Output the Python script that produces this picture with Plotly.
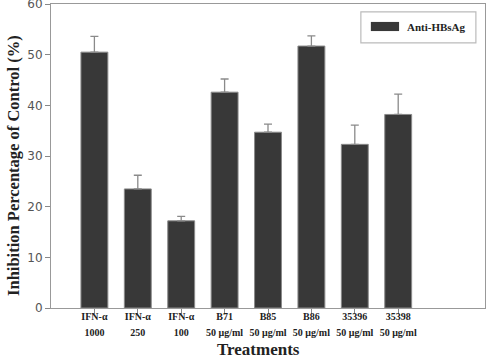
import plotly.graph_objects as go

cat_line1 = ["IFN-α", "IFN-α", "IFN-α", "B71", "B85", "B86", "35396", "35398"]
cat_line2 = ["1000", "250", "100", "50 μg/ml", "50 μg/ml", "50 μg/ml", "50 μg/ml", "50 μg/ml"]
values = [50.5, 23.5, 17.2, 42.6, 34.7, 51.7, 32.3, 38.2]
errors = [3.1, 2.7, 0.9, 2.6, 1.6, 2.0, 3.8, 4.0]
y_ticks = [0, 10, 20, 30, 40, 50, 60]

x = list(range(len(cat_line1)))
ticktext = [f"<span style='font-size:10px'><b>{a}</b></span><br><span style='font-size:10px'><b>{b}</b></span>"
            for a, b in zip(cat_line1, cat_line2)]
serif = "Liberation Serif"

fig = go.Figure()
fig.add_trace(go.Bar(
    x=x, y=values, width=0.62, name="Anti-HBsAg",
    marker=dict(color="#383838", line=dict(color="#8a8a8a", width=1)),
    error_y=dict(type="data", array=errors, arrayminus=[0]*len(errors), symmetric=False,
                 color="#8a8a8a", thickness=1.3, width=4),
    showlegend=False,
))

fig.update_layout(
    width=486, height=358,
    margin=dict(l=51, r=1, t=4, b=50, autoexpand=False),
    plot_bgcolor="white", paper_bgcolor="white",
    xaxis=dict(range=[-1, 9], tickmode="array", tickvals=x, ticktext=ticktext, automargin=False,
               ticks="outside", ticklen=5, tickcolor="#888", showgrid=False, zeroline=False,
               showline=True, linecolor="#999", linewidth=1, mirror=True,
               ticklabelstandoff=-8,
               tickfont=dict(family=serif, size=12, color="#222")),
    yaxis=dict(range=[0, 60], tickvals=y_ticks, ticks="outside", ticklen=5, tickcolor="#888",
               automargin=False, ticklabeloverflow="allow",
               showgrid=False, zeroline=False, showline=True, linecolor="#999", linewidth=1, mirror=True,
               tickfont=dict(family="DejaVu Sans", size=12, color="#555")),
)

# axis titles
fig.add_annotation(xref="paper", yref="paper", x=0.479, y=-0.138, yanchor="middle", xanchor="center",
                   text="<b>Treatments</b>", showarrow=False,
                   font=dict(family=serif, size=17, color="#222"))
fig.add_annotation(xref="paper", yref="paper", x=-0.088, y=0.47, textangle=-90,
                   xanchor="center", yanchor="middle",
                   text="<b>Inhibition Percentage of Control (%)</b>", showarrow=False,
                   font=dict(family=serif, size=16.5, color="#222"))

# legend box
fig.add_shape(type="rect", xref="paper", yref="paper", x0=0.714, x1=0.979, y0=0.872, y1=0.974,
              line=dict(color="#bbbbbb", width=1.2), fillcolor="white")
fig.add_shape(type="rect", xref="paper", yref="paper", x0=0.737, x1=0.802, y0=0.911, y1=0.941,
              line=dict(width=0), fillcolor="#383838")
fig.add_annotation(xref="paper", yref="paper", x=0.816, y=0.924, xanchor="left", yanchor="middle",
                   text="<b>Anti-HBsAg</b>", showarrow=False,
                   font=dict(family=serif, size=11, color="#222"))

fig.write_html("out.html", config={"displayModeBar": False},
               post_script="document.body.style.margin='0';document.body.style.overflow='hidden';")
